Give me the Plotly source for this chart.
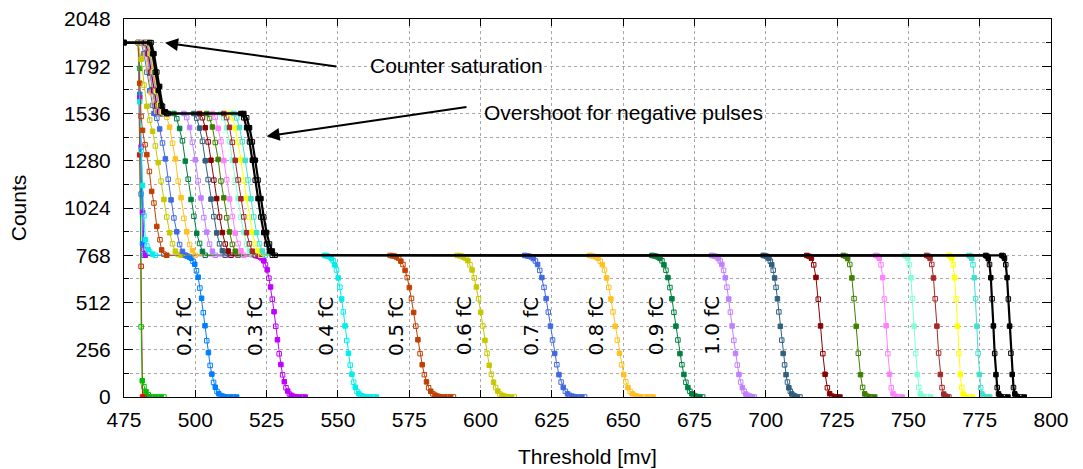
import plotly.graph_objects as go

# ---------------- data (threshold in mV, counts) ----------------
thr_00 = [475, 480, 480.5, 481, 481.5, 482, 482.5, 483, 483.5, 484]
cnt_00 = [1920, 1920, 1312, 708, 0, 0, 0, 0, 0, 0]

thr_01 = [475, 480, 480.5, 481, 481.4, 482, 482.7, 483.5, 484, 485, 486, 487, 488, 489]
cnt_01 = [1920, 1920, 1781, 380, 88, 56, 29, 12, 0, 0, 0, 0, 0, 0]

thr_02 = [475, 480, 480.5, 481, 481.5, 482, 496.2, 496.8, 497.4, 498.0, 498.6, 499.2, 499.8, 500.4, 501.0, 501.6,
          502.2, 502.8, 503.4, 504.0, 504.6, 505.2, 505.8, 506.4, 507.0, 507.6, 508.2, 508.8, 509.4, 510.0, 510.6,
          511.5, 512.5, 513.5, 514.5]
cnt_02 = [1920, 1920, 1640, 1100, 830, 768, 768, 766, 762, 757, 752, 735, 719, 684, 649, 590, 535, 457, 386, 305,
          240, 171, 124, 79, 53, 30, 18, 8, 5, 2, 0, 0, 0, 0, 0]

thr_03 = [475, 480, 480.5, 481, 481.5, 482, 482.5, 521.0, 521.6, 522.2, 522.8, 523.4, 524.0, 524.6, 525.2, 525.8,
          526.4, 527.0, 527.6, 528.2, 528.8, 529.4, 530.0, 530.6, 531.2, 531.8, 532.4, 533.0, 533.6, 534.2, 534.8,
          535.4, 536.5, 537.5, 538.5]
cnt_03 = [1920, 1920, 1620, 1355, 1000, 800, 768, 767, 765, 763, 758, 750, 738, 715, 689, 644, 596, 530, 462, 383,
          310, 234, 176, 120, 83, 50, 32, 16, 9, 4, 2, 0, 0, 0, 0]

thr_04 = [475, 480, 480.5, 481, 481.5, 482, 482.5, 483, 483.5, 484, 485, 486, 545.3, 545.9, 546.5, 547.1, 547.7,
          548.3, 548.9, 549.5, 550.1, 550.7, 551.3, 551.9, 552.5, 553.1, 553.7, 554.3, 554.9, 555.5, 556.1, 556.7,
          557.3, 557.9, 558.5, 559.1, 559.7, 560.5, 561.5, 562.5, 563.5]
cnt_04 = [1920, 1920, 1600, 1336, 1146, 982, 852, 818, 798, 785, 774, 768, 767, 766, 762, 760, 750, 738, 716, 688,
          645, 595, 531, 461, 385, 306, 237, 173, 123, 80, 52, 30, 18, 9, 5, 2, 0, 0, 0, 0, 0]

thr_05 = [475, 480, 480.5, 481, 481.5, 482.4, 483, 483.9, 484.7, 485.5, 486.5, 487.6, 488.2, 489, 490, 568.3,
          569.05, 569.8, 570.55, 571.3, 572.05, 572.8, 573.55, 574.3, 575.05, 575.8, 576.55, 577.3, 578.05, 578.8,
          579.55, 580.3, 581.05, 581.8, 582.55, 583.3, 584.05, 584.8, 585.55, 586.3, 587.5, 588.5, 589.5, 590.5]
cnt_05 = [1920, 1920, 1700, 1520, 1445, 1367, 1313, 1222, 1114, 1051, 924, 852, 797, 774, 768, 767, 765, 764, 758,
          752, 736, 718, 686, 647, 593, 534, 458, 384, 310, 235, 175, 121, 82, 50, 31, 17, 10, 5, 2, 0, 0, 0, 0, 0]

thr_06 = [475, 480, 481, 482, 483, 484, 485, 486, 487, 488, 489, 490, 491, 492, 493, 494, 495, 591.8, 592.55,
          593.3, 594.05, 594.8, 595.55, 596.3, 597.05, 597.8, 598.55, 599.3, 600.05, 600.8, 601.55, 602.3, 603.05,
          603.8, 604.55, 605.3, 606.05, 606.8, 607.55, 608.3, 609.05, 609.8, 610.8, 611.8]
cnt_06 = [1920, 1920, 1830, 1690, 1575, 1500, 1440, 1360, 1270, 1170, 1070, 975, 890, 830, 790, 772, 768, 767, 766,
          763, 758, 751, 739, 716, 688, 645, 596, 532, 459, 385, 307, 237, 172, 123, 80, 51, 32, 16, 9, 5, 2, 1, 0, 0]

thr_07 = [475, 481, 482, 483, 484, 485, 485.5, 486.5, 487.5, 488.5, 489.5, 490.5, 491.5, 492.5, 493.5, 494.5, 495.5,
          496.5, 615.5, 616.25, 617.0, 617.75, 618.5, 619.25, 620.0, 620.75, 621.5, 622.25, 623.0, 623.75, 624.5,
          625.25, 626.0, 626.75, 627.5, 628.25, 629.0, 629.75, 630.5, 631.25, 632.0, 632.75, 633.5, 634.5, 635.5, 636.5]
cnt_07 = [1920, 1920, 1860, 1760, 1660, 1580, 1536, 1510, 1452, 1376, 1290, 1180, 1068, 970, 895, 826, 789, 768,
          767, 765, 763, 759, 750, 737, 718, 686, 647, 594, 533, 460, 384, 309, 236, 175, 121, 81, 52, 31, 17, 9, 5,
          2, 0, 0, 0, 0]

thr_08 = [475, 481.5, 482.5, 483.5, 484.5, 485.5, 486.5, 487.5, 489, 490, 491, 492, 493, 494, 495, 496, 497, 498,
          499, 500, 638.2, 638.95, 639.7, 640.45, 641.2, 641.95, 642.7, 643.45, 644.2, 644.95, 645.7, 646.45, 647.2,
          647.95, 648.7, 649.45, 650.2, 650.95, 651.7, 652.45, 653.2, 653.95, 654.7, 655.45, 656.2, 657.5, 658.5,
          659.5, 660.5]
cnt_08 = [1920, 1920, 1855, 1770, 1650, 1585, 1548, 1536, 1536, 1516, 1462, 1375, 1290, 1170, 1080, 968, 895, 826,
          793, 768, 767, 766, 762, 759, 752, 736, 717, 688, 645, 594, 531, 461, 383, 308, 237, 174, 121, 82, 51, 30,
          18, 9, 5, 2, 0, 0, 0, 0, 0]

thr_09 = [475, 482, 483, 484, 485, 486, 487, 488, 492.5, 493.5, 494.5, 495.5, 496.5, 497.5, 498.5, 499.5, 500.5,
          501.5, 502.5, 503.5, 660.1, 660.8, 661.5, 662.2, 662.9, 663.6, 664.3, 665.0, 665.7, 666.4, 667.1, 667.8,
          668.5, 669.2, 669.9, 670.6, 671.3, 672.0, 672.7, 673.4, 674.1, 674.8, 675.5, 676.2, 676.9, 677.9]
cnt_09 = [1920, 1920, 1865, 1755, 1665, 1575, 1542, 1536, 1536, 1508, 1455, 1388, 1278, 1180, 1070, 979, 887, 832,
          789, 768, 767, 765, 763, 758, 751, 738, 716, 687, 647, 593, 532, 459, 384, 309, 235, 175, 122, 80, 51, 31,
          17, 9, 4, 2, 0, 0]

thr_10 = [475, 482, 483, 484, 485, 486, 487, 488, 496, 497, 498, 499, 500, 501, 502, 503, 504, 505, 506, 507,
          681.0, 681.6, 682.2, 682.8, 683.4, 684.0, 684.6, 685.2, 685.8, 686.4, 687.0, 687.6, 688.2, 688.8, 689.4,
          690.0, 690.6, 691.2, 691.8, 692.4, 693.0, 693.6, 694.2, 694.8, 695.4, 696.0]
cnt_10 = [1920, 1920, 1858, 1765, 1655, 1582, 1546, 1536, 1536, 1514, 1460, 1380, 1285, 1172, 1078, 972, 893, 828,
          790, 768, 767, 766, 763, 760, 750, 737, 718, 686, 646, 595, 531, 460, 385, 307, 236, 173, 122, 81, 51, 31,
          16, 9, 5, 2, 0, 0]

thr_11 = [475, 482.5, 483.5, 484.5, 485.5, 486.5, 487.5, 488.5, 499.5, 500.5, 501.5, 502.5, 503.5, 504.5, 505.5,
          506.5, 507.5, 508.5, 509.5, 510.5, 699.1, 699.6, 700.1, 700.6, 701.1, 701.6, 702.1, 702.6, 703.1, 703.6,
          704.1, 704.6, 705.1, 705.6, 706.1, 706.6, 707.1, 707.6, 708.1, 708.6, 709.1, 709.6, 710.1, 710.6, 711.1,
          712.0]
cnt_11 = [1920, 1920, 1862, 1758, 1662, 1578, 1544, 1536, 1536, 1511, 1457, 1385, 1280, 1178, 1072, 977, 889, 830,
          792, 768, 767, 766, 764, 759, 751, 736, 717, 687, 645, 594, 532, 461, 383, 308, 236, 174, 121, 81, 50, 31,
          17, 9, 5, 2, 0, 0]

thr_12 = [475, 482.5, 483.5, 484.5, 485.5, 486.5, 487.5, 488.5, 501.5, 502.5, 503.5, 504.5, 505.5, 506.5, 507.5,
          508.5, 509.5, 510.5, 511.5, 512.5, 714.4, 715.2, 716.0, 716.8, 717.6, 718.4, 719.2, 720.0, 720.8, 721.6,
          722.4, 723.2, 724.0, 725.0, 726.0]
cnt_12 = [1920, 1920, 1860, 1760, 1660, 1580, 1545, 1536, 1536, 1513, 1459, 1382, 1283, 1175, 1075, 975, 891, 829,
          791, 768, 767, 762, 752, 716, 648, 530, 385, 235, 123, 50, 18, 5, 1, 0, 0]

thr_13 = [475, 483, 484, 485, 486, 487, 488, 489, 504, 505, 506, 507, 508, 509, 510, 511, 512, 513, 514, 515,
          727.2, 727.95, 728.7, 729.45, 730.2, 730.95, 731.7, 732.45, 733.2, 733.95, 734.7, 735.45, 736.2, 737.2,
          738.2]
cnt_13 = [1920, 1920, 1857, 1763, 1658, 1583, 1543, 1536, 1536, 1509, 1463, 1379, 1287, 1170, 1079, 971, 894, 827,
          790, 768, 767, 763, 750, 718, 645, 533, 383, 237, 121, 52, 17, 5, 1, 0, 0]

thr_14 = [475, 483, 484, 485, 486, 487, 488, 489, 506, 507, 508, 509, 510, 511, 512, 513, 514, 515, 516, 517,
          738.6, 739.2, 739.8, 740.4, 741.0, 741.6, 742.2, 742.8, 743.4, 744.0, 744.6, 745.2, 745.8, 746.8, 747.8]
cnt_14 = [1920, 1920, 1863, 1757, 1661, 1577, 1546, 1536, 1536, 1515, 1456, 1384, 1281, 1177, 1073, 978, 888, 831,
          792, 768, 767, 764, 751, 716, 647, 531, 386, 235, 123, 50, 18, 5, 1, 0, 0]

thr_15 = [475, 483.5, 484.5, 485.5, 486.5, 487.5, 488.5, 489.5, 509, 510, 511, 512, 513, 514, 515, 516, 517, 518,
          519, 520, 748.7, 749.25, 749.8, 750.35, 750.9, 751.45, 752.0, 752.55, 753.1, 753.65, 754.2, 754.75, 755.3,
          756.5, 757.8]
cnt_15 = [1920, 1920, 1859, 1761, 1659, 1581, 1544, 1536, 1536, 1512, 1458, 1383, 1284, 1174, 1076, 974, 892, 828,
          791, 768, 767, 763, 752, 717, 646, 533, 384, 236, 121, 52, 17, 4, 1, 0, 0]

thr_16 = [475, 483.5, 484.5, 485.5, 486.5, 487.5, 488.5, 489.5, 510, 511, 512, 513, 514, 515, 516, 517, 518, 519,
          520, 521, 756.4, 757.0, 757.6, 758.2, 758.8, 759.4, 760.0, 760.6, 761.2, 761.8, 762.4, 763.0, 763.6, 764.2]
cnt_16 = [1920, 1920, 1861, 1759, 1663, 1579, 1547, 1536, 1536, 1514, 1461, 1380, 1282, 1176, 1074, 976, 890, 830,
          790, 768, 767, 763, 751, 718, 645, 532, 384, 238, 122, 51, 16, 5, 1, 0]

thr_17 = [475, 483.5, 484.5, 485.5, 486.5, 487.5, 488.5, 489.5, 512, 513, 514, 515, 516, 517, 518, 519, 520, 521,
          522, 523, 764.2, 764.7, 765.2, 765.7, 766.2, 766.7, 767.2, 767.7, 768.2, 768.7, 769.2, 769.7, 770.2, 771.2,
          772.5]
cnt_17 = [1920, 1920, 1860, 1762, 1657, 1582, 1545, 1536, 1536, 1513, 1457, 1381, 1286, 1173, 1077, 973, 893, 829,
          792, 768, 767, 762, 751, 717, 647, 531, 384, 236, 122, 51, 17, 5, 1, 0, 0]

thr_18 = [475, 484, 485, 486, 487, 488, 489, 490, 513.5, 514.5, 515.5, 516.5, 517.5, 518.5, 519.5, 520.5, 521.5,
          522.5, 523.5, 524.5, 771.3, 771.75, 772.2, 772.65, 773.1, 773.55, 774.0, 774.45, 774.9, 775.35, 775.8,
          776.25, 776.7, 777.6, 778.5]
cnt_18 = [1920, 1920, 1858, 1761, 1660, 1581, 1545, 1536, 1536, 1512, 1460, 1383, 1282, 1176, 1074, 976, 890, 830,
          791, 768, 767, 763, 751, 716, 646, 533, 383, 237, 122, 50, 17, 5, 1, 0, 0]

thr_19 = [475, 484, 485, 486, 487, 488, 489, 490, 516, 517, 518, 519, 520, 521, 522, 523, 524, 525, 526, 527,
          777.1, 777.55, 778.0, 778.45, 778.9, 779.35, 779.8, 780.25, 780.7, 781.15, 781.6, 782.05, 782.5, 783.7,
          784.9]
cnt_19 = [1920, 1920, 1860, 1760, 1660, 1580, 1545, 1536, 1536, 1513, 1459, 1382, 1283, 1175, 1075, 975, 891, 829,
          791, 768, 767, 763, 750, 718, 646, 532, 385, 236, 121, 51, 17, 5, 1, 0, 0]

thr_20 = [475, 484.5, 485.5, 486.5, 487.5, 488.5, 489.5, 490.5, 517, 518, 519, 520, 521, 522, 523, 524, 525, 526,
          527, 528, 782.8, 783.25, 783.7, 784.15, 784.6, 785.05, 785.5, 785.95, 786.4, 786.85, 787.3, 787.75, 788.2,
          789.4, 790.6]
cnt_20 = [1920, 1920, 1860, 1760, 1683, 1575, 1545, 1536, 1536, 1513, 1459, 1382, 1283, 1175, 1075, 975, 891, 829,
          791, 768, 767, 764, 751, 717, 647, 531, 384, 237, 122, 51, 17, 5, 1, 0, 0]

SERIES_THR = [thr_00, thr_01, thr_02, thr_03, thr_04, thr_05, thr_06, thr_07, thr_08, thr_09, thr_10,
              thr_11, thr_12, thr_13, thr_14, thr_15, thr_16, thr_17, thr_18, thr_19, thr_20]
SERIES_CNT = [cnt_00, cnt_01, cnt_02, cnt_03, cnt_04, cnt_05, cnt_06, cnt_07, cnt_08, cnt_09, cnt_10,
              cnt_11, cnt_12, cnt_13, cnt_14, cnt_15, cnt_16, cnt_17, cnt_18, cnt_19, cnt_20]
SERIES_NAMES = ["0.0 fC", "0.1 fC", "0.2 fC", "0.3 fC", "0.4 fC", "0.5 fC", "0.6 fC", "0.7 fC", "0.8 fC",
                "0.9 fC", "1.0 fC", "1.1 fC", "1.2 fC", "1.3 fC", "1.4 fC", "1.5 fC", "1.6 fC", "1.7 fC",
                "1.8 fC", "1.9 fC", "2.0 fC"]
SERIES_COLORS = ["#ff0000", "#00c000", "#0080ff", "#c000ff", "#00eeee", "#c04000", "#c8c800", "#4169e1",
                 "#ffc020", "#008040", "#c080ff", "#306080", "#8b0000", "#408000", "#ff80ff", "#7fffd4",
                 "#a52a2a", "#ffff00", "#40e0d0", "#000000", "#000000"]

LABEL_TEXT = ["0.2 fC", "0.3 fC", "0.4 fC", "0.5 fC", "0.6 fC", "0.7 fC", "0.8 fC", "0.9 fC", "1.0 fC"]
LABEL_THR = [496.0, 520.9, 545.7, 570.3, 594.2, 617.6, 640.6, 661.6, 681.1]
LABEL_CNT = [384, 384, 384, 384, 384, 384, 384, 384, 390]

NOTE_TEXT = ["Counter saturation", "Overshoot for negative pulses"]
NOTE_TEXT_POS = [(560.6, 1796), (600.5, 1541)]
NOTE_HEAD = [(489.4, 1919), (525.0, 1413)]
NOTE_TAIL = [(550.0, 1790), (595.6, 1573)]

X_TICKS = [475, 500, 525, 550, 575, 600, 625, 650, 675, 700, 725, 750, 775, 800]
Y_TICKS = [0, 256, 512, 768, 1024, 1280, 1536, 1792, 2048]

# ---------------- figure ----------------
FONT = "Liberation Sans, Arial, sans-serif"
fig = go.Figure()

for thr, cnt, name, col in zip(SERIES_THR, SERIES_CNT, SERIES_NAMES, SERIES_COLORS):
    n = min(len(thr), len(cnt))
    symbols = ["square" if i % 2 == 0 else "square-open" for i in range(n)]
    lw = 2.2 if col == "#000000" else 1
    fig.add_trace(go.Scatter(
        x=thr[:n], y=cnt[:n], mode="lines+markers", name=name,
        line=dict(color=col, width=lw),
        marker=dict(symbol=symbols, size=4.5, color=col, line=dict(color=col, width=1)),
        showlegend=False,
    ))

for t, xv, yv in zip(LABEL_TEXT, LABEL_THR, LABEL_CNT):
    fig.add_annotation(x=xv, y=yv, text=t, showarrow=False, textangle=-90,
                       font=dict(family="DejaVu Sans", size=20, color="black"),
                       xanchor="center", yanchor="middle")

for t, (tx, ty), (hx, hy), (ax_, ay_) in zip(NOTE_TEXT, NOTE_TEXT_POS, NOTE_HEAD, NOTE_TAIL):
    fig.add_annotation(x=tx, y=ty, text=t, showarrow=False, xanchor="left", yanchor="middle",
                       font=dict(family=FONT, size=21, color="black"))
    fig.add_annotation(x=hx, y=hy, ax=ax_, ay=ay_, axref="x", ayref="y", text="",
                       showarrow=True, arrowhead=2, arrowsize=1.3, arrowwidth=2, arrowcolor="black")

grid = dict(showgrid=True, gridcolor="#a8a8a8", griddash="dot", gridwidth=1)
fig.update_xaxes(range=[475, 800], tickvals=X_TICKS, ticks="inside", ticklen=7, tickcolor="black",
                 showline=True, linecolor="black", linewidth=1, mirror="allticks", automargin=False,
                 tickfont=dict(family=FONT, size=21, color="black"), zeroline=False,
                 title=dict(text="Threshold [mv]", font=dict(family=FONT, size=21, color="black"), standoff=19),
                 ticklabelstandoff=4, **grid)
fig.update_yaxes(range=[0, 2048], tickvals=Y_TICKS, ticks="inside", ticklen=9, tickcolor="black",
                 showline=True, linecolor="black", linewidth=1, mirror="allticks", automargin=False,
                 tickfont=dict(family=FONT, size=21, color="black"), zeroline=False,
                 title=dict(text="Counts", font=dict(family=FONT, size=21, color="black"), standoff=31),
                 ticklabelstandoff=8,
                 minor=dict(dtick=128, tick0=0, ticks="inside", ticklen=5, tickcolor="black",
                            showgrid=True, gridcolor="#a8a8a8", griddash="dot"),
                 **grid)

fig.update_layout(width=1083, height=469, margin=dict(l=124, r=32, t=19, b=72, autoexpand=False),
                  paper_bgcolor="white", plot_bgcolor="white", showlegend=False)

fig.write_html("out.html")
